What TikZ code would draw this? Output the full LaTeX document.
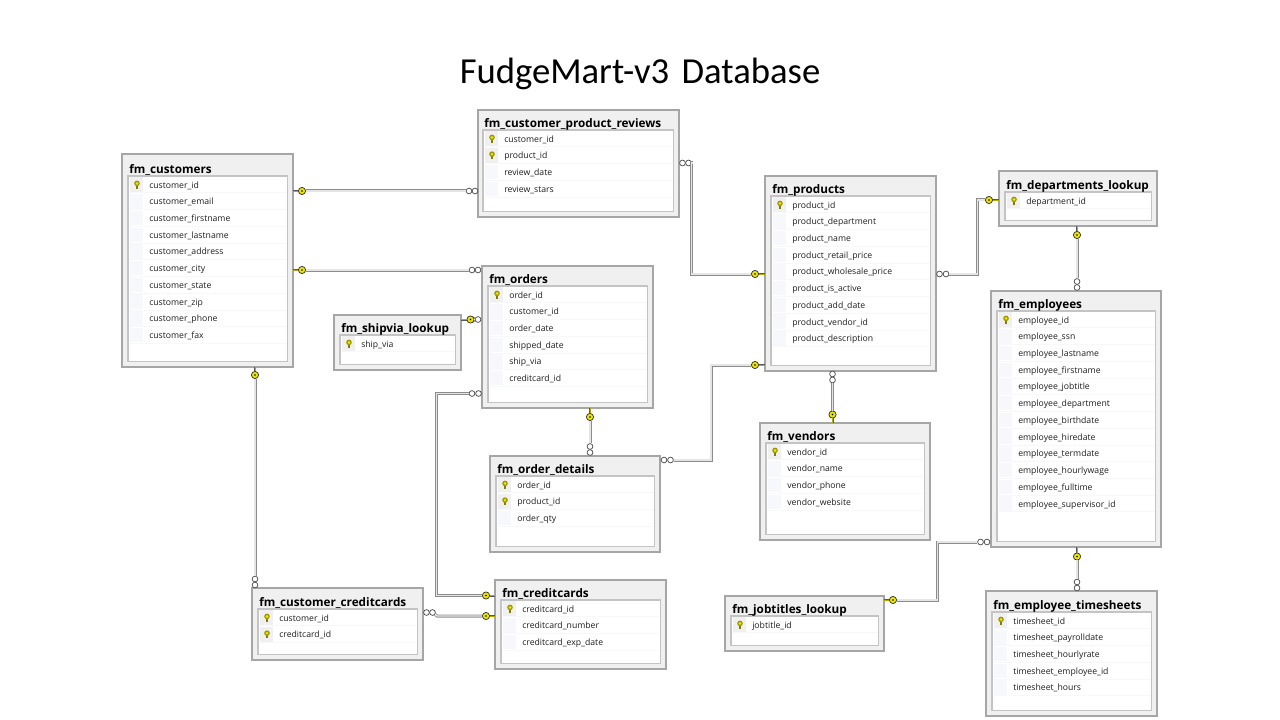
\documentclass[tikz,border=0pt]{standalone}
\usepackage{fontspec}
\setmainfont{Open Sans}
\newfontfamily\titlefont[WordSpace=1.5]{Carlito}
\usetikzlibrary{calc}
\definecolor{panel}{HTML}{F0F0F0}
\definecolor{frame}{HTML}{A6A6A6}
\definecolor{innerframe}{HTML}{C4C4C4}
\definecolor{rowline}{HTML}{F7F8FB}
\definecolor{keycell}{HTML}{F0F0F0}
\definecolor{keyyellow}{HTML}{EDE500}
\tikzset{
  x=0.75pt,y=-0.75pt,
  tablebox/.style={draw=frame,line width=0.95pt,fill=panel,rectangle,inner sep=0pt,outer sep=0pt,anchor=north west},
  innerbox/.style={draw=innerframe,line width=0.95pt,fill=white,rectangle,inner sep=0pt,outer sep=0pt,anchor=north west},
  tabletitle/.style={anchor=base west,inner sep=0pt,font=\fontsize{8.8pt}{10pt}\bfseries\selectfont},
  coltext/.style={anchor=base west,inner sep=0pt,text=black!88,font=\fontsize{6.5pt}{8pt}\selectfont},
  link/.style={draw=black!45,line width=0.6pt,double=black!10,double distance=1.05pt},
  keymark/.style={circle,draw=black!80,fill=keyyellow,line width=0.55pt,minimum size=5.4pt,inner sep=0pt},
  infmark/.style={circle,draw=black!70,fill=white,line width=0.55pt,minimum size=4.3pt,inner sep=0pt},
  shank/.style={draw=black!65,line width=0.4pt,double=black!25!keyyellow,double distance=0.7pt},
}
% #1 name  #2 title  #3 x1  #4 y1  #5 x2  #6 y2  #7 inner left  #8 inner top  #9 rows text/iskey
\newcommand{\dbtable}[9]{%
  \node[tablebox,minimum width={(#5-#3)*0.75pt},minimum height={(#6-#4)*0.75pt}] (#1) at (#3,#4) {};
  \node[innerbox,minimum width={(#5-5.5-#7)*0.75pt},minimum height={(#6-5.5-#8)*0.75pt}] (#1in) at (#7,#8) {};
  \node[tabletitle] (#1title) at (#7+1,#8-2.6) {fm\_#2};
  \foreach \rowtext/\rowkey [count=\rowi from 0] in {#9} {
    \pgfmathsetmacro{\rowy}{#8+8.6+\rowi*16.72}
    \ifnum\rowkey=1
      \fill[keycell] (#7+2,\rowy-7.2) rectangle (#7+15,\rowy+7.2);
    \else
      \fill[rowline] (#7+2,\rowy-7.2) rectangle (#7+15,\rowy+7.2);
    \fi
    \draw[rowline,line width=0.7pt] (#7+1,\rowy+8.36) -- (#5-6.5,\rowy+8.36);
    \node[coltext] (#1r\rowi) at (#7+21,\rowy+3.5) {\rowtext};
    \ifnum\rowkey=1
      \draw[black!45!keyyellow,line width=1.3pt] (#7+9,\rowy-1) -- (#7+9,\rowy+4);
      \fill[black!35!keyyellow] (#7+9,\rowy-1.2) circle[radius=2.1pt];
      \fill[keyyellow] (#7+9,\rowy-1.2) circle[radius=1.2pt];
    \fi
  }
}
% #1 name  #2 x  #3 y  #4 point of the table that the shank reaches
\newcommand{\keymarker}[4]{%
  \node[keymark] (#1) at (#2,#3) {};
  \draw[shank] (#1) -- (#4);
  \fill[black] (#1.center) circle[radius=0.7pt];
}
\newcommand{\infmarker}[5]{%
  \node[infmark] (#1a) at (#2,#3) {};
  \node[infmark] (#1b) at (#4,#5) {};
}
\begin{document}
\begin{tikzpicture}
\useasboundingbox (0,0) rectangle (1280,720);
\fill[white] (0,0) rectangle (1280,720);
\node[anchor=base,inner sep=0pt,font=\titlefont\fontsize{27.5pt}{30pt}\selectfont] (pagetitle) at (640,84) {FudgeMart-v3 Database};

\dbtable{customers}{customers}{122}{154}{293}{367}{128}{176}{customer\_id/1,customer\_email/0,customer\_firstname/0,customer\_lastname/0,customer\_address/0,customer\_city/0,customer\_state/0,customer\_zip/0,customer\_phone/0,customer\_fax/0}
\dbtable{reviews}{customer\_product\_reviews}{478}{110}{679}{217}{483}{130}{customer\_id/1,product\_id/1,review\_date/0,review\_stars/0}
\dbtable{products}{products}{765}{176}{936}{371}{771}{196}{product\_id/1,product\_department/0,product\_name/0,product\_retail\_price/0,product\_wholesale\_price/0,product\_is\_active/0,product\_add\_date/0,product\_vendor\_id/0,product\_description/0}
\dbtable{departments}{departments\_lookup}{999}{171}{1157}{226}{1005}{192}{department\_id/1}
\dbtable{orders}{orders}{482}{266}{653}{408}{488}{286}{order\_id/1,customer\_id/0,order\_date/0,shipped\_date/0,ship\_via/0,creditcard\_id/0}
\dbtable{shipvia}{shipvia\_lookup}{334}{315}{461}{370}{340}{335}{ship\_via/1}
\dbtable{details}{order\_details}{490}{456}{660}{552}{496}{476}{order\_id/1,product\_id/1,order\_qty/0}
\dbtable{vendors}{vendors}{760}{423}{930}{540}{766}{443}{vendor\_id/1,vendor\_name/0,vendor\_phone/0,vendor\_website/0}
\dbtable{employees}{employees}{991}{291}{1161}{547}{997}{311}{employee\_id/1,employee\_ssn/0,employee\_lastname/0,employee\_firstname/0,employee\_jobtitle/0,employee\_department/0,employee\_birthdate/0,employee\_hiredate/0,employee\_termdate/0,employee\_hourlywage/0,employee\_fulltime/0,employee\_supervisor\_id/0}
\dbtable{custcards}{customer\_creditcards}{252}{588}{423}{660}{258}{609}{customer\_id/1,creditcard\_id/1}
\dbtable{cards}{creditcards}{495}{580}{666}{669}{501}{600}{creditcard\_id/1,creditcard\_number/0,creditcard\_exp\_date/0}
\dbtable{jobtitles}{jobtitles\_lookup}{725}{596}{884}{651}{731}{616}{jobtitle\_id/1}
\dbtable{timesheets}{employee\_timesheets}{986}{591}{1157}{716}{992}{612}{timesheet\_id/1,timesheet\_payrolldate/0,timesheet\_hourlyrate/0,timesheet\_employee\_id/0,timesheet\_hours/0}

% customers -- reviews
\keymarker{ka}{302}{191}{customers.east|-ka}
\infmarker{ia}{475}{191}{469}{191}
\draw[link] (ka) -- (iab);
% customers -- orders
\keymarker{kb}{302}{270}{customers.east|-kb}
\infmarker{ib}{478}{270}{472}{270}
\draw[link] (kb) -- (ibb);
% reviews -- products
\keymarker{kc}{755}{274}{products.west|-kc}
\infmarker{ic}{682.5}{163}{688.5}{163}
\draw[link] (icb) -| ($(icb)+(3,0)$) |- (kc);
% products -- departments
\keymarker{kd}{989}{200}{departments.west|-kd}
\infmarker{id}{939.5}{274}{946}{274}
\draw[link] (idb) -| (977.5,237) |- (kd);
% departments -- employees
\keymarker{ke}{1077}{235}{departments.south-|ke}
\infmarker{ie}{1077}{287.5}{1077}{281.5}
\draw[link] (ke) -- (ieb);
% orders -- shipvia
\infmarker{if}{478}{319.5}{472}{319.5}
\keymarker{kf}{470.5}{319.5}{shipvia.east|-kf}
\draw[link] (kf) -- (ifa);
% orders -- creditcards
\keymarker{kg}{486}{595.5}{cards.west|-kg}
\infmarker{ig}{478.5}{393.5}{472}{393.5}
\draw[link] (igb) -| (436.5,500) |- (kg);
% orders -- order details
\keymarker{kh}{590}{417}{orders.south-|kh}
\infmarker{ih}{590}{452.5}{590}{446.5}
\draw[link] (kh) -- (ihb);
% order details -- products
\keymarker{ki}{755}{365}{products.west|-ki}
\infmarker{ii}{664}{460}{670.5}{460}
\draw[link] (iib) -| (711,410) |- (ki);
% products -- vendors
\keymarker{kj}{832.5}{414.5}{vendors.north-|kj}
\infmarker{ij}{832.5}{374}{832.5}{380}
\draw[link] (ijb) -- (kj);
% employees -- jobtitles
\keymarker{kk}{893}{600}{jobtitles.east|-kk}
\infmarker{ik}{987}{542}{980.5}{542}
\draw[link] (ikb) -| (937.5,570) |- (kk);
% employees -- timesheets
\keymarker{kl}{1077}{556.5}{employees.south-|kl}
\infmarker{il}{1077}{588}{1077}{582}
\draw[link] (kl) -- (ilb);
% customers -- customer creditcards
\keymarker{km}{255}{375}{customers.south-|km}
\infmarker{im}{255}{585}{255}{579}
\draw[link] (km) -- (imb);
% customer creditcards -- creditcards
\keymarker{kn}{486}{616}{cards.west|-kn}
\infmarker{in}{426.5}{612.5}{432.5}{612.5}
\draw[link] (inb) -- (437,616) -- (kn);
\end{tikzpicture}
\end{document}
